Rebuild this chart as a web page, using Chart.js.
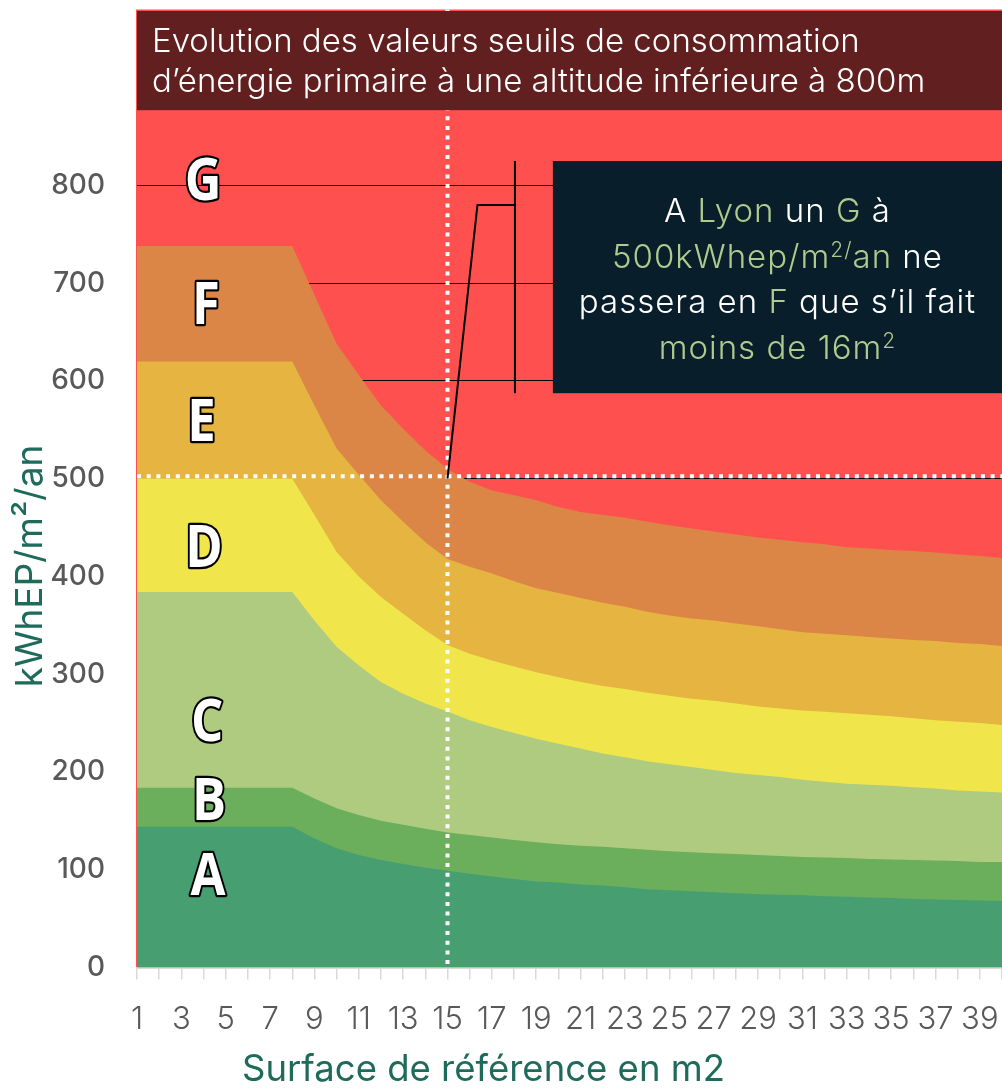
<!DOCTYPE html>
<html><head><meta charset="utf-8">
<script src="https://cdn.jsdelivr.net/npm/chart.js@4.4.1/dist/chart.umd.min.js"></script>
<style>html,body{margin:0;padding:0;background:#fff;}#wrap{width:1002px;height:1088px;position:relative;}</style>
</head><body><div id="wrap"><canvas id="c"></canvas></div>
<script>
// Surface de référence (m²)
const surfaces = ['1','2','3','4','5','6','7','8','9','10','11','12','13','14','15','16','17','18','19','20',
  '21','22','23','24','25','26','27','28','29','30','31','32','33','34','35','36','37','38','39','40'];
// Upper threshold of each class (kWhEP/m²/an)
const seuilA = [144,144,144,144,144,144,144,144,132,122,115,110,106,102,99,96,93,90.5,88,87,
  85,84,82,80,79,78,77,76,75,74.5,74,73,72.5,71.5,71,70,69.5,69,68.5,68];
const seuilB = [184,184,184,184,184,184,184,184,173,163,156,150,146,142,138,135.5,133,130.5,128,126,
  124.5,123.5,122,120.5,119,118,117,116,115,114,113,112.5,112,111,110.5,110,109.5,109,108,108];
const seuilC = [384,384,384,384,384,384,384,384,355,328,309,292,280,270,262,253,246,240,234,229,
  224,219,215,211,208,205,202,199,197,195,192,190,188,187,186,184.5,183,181,180,179];
const seuilD = [500,500,500,500,500,500,500,500,463,425,400,379,362,345,330,321,314,308,302,297,
  292,288,285,281,278,275,273,270,267,265,263,261.5,260,258.5,257,255,253,251.5,250,248];
const seuilE = [620,620,620,620,620,620,620,620,575,531,504,478,456,435,418,410,403,395,388,383,
  378,373,369,364,360,357,355,352,349,346,343,341.5,340,338,336.5,335,334,332,331,329];
const seuilF = [738,738,738,738,738,738,738,738,688,638,606,575,551,529,510,497,488,483,478,471,
  466,463,460,456,452.5,449,446,443,440,437.5,435,433,430,428.5,427,426,424.5,422.5,421,419];
const classes = ['A','B','C','D','E','F','G'];
const xTickLabels = ['1','3','5','7','9','11','13','15','17','19','21','23','25','27','29','31','33','35','37','39'];
const yTickLabels = [0,100,200,300,400,500,600,700,800];
const titleLines = ['Evolution des valeurs seuils de consommation','d’énergie primaire à une altitude inférieure à 800m'];
const xTitle = 'Surface de référence en m2';
const yTitle = 'kWhEP/m²/an';

const COL = {A:'#479E70',B:'#6BAE5C',C:'#AFCB7F',D:'#F0E64B',E:'#E6B541',F:'#DB8646',G:'#FF5050'};
const WHITE='#FFFFFF', HL='#ADCB8C';
const FONT='Inter, "Open Sans", sans-serif';

const bgPlugin = {
  id:'bg',
  beforeDraw(chart){
    const {ctx, chartArea:a} = chart;
    ctx.save(); ctx.fillStyle = COL.G;
    ctx.fillRect(a.left-1, a.top, a.right-a.left+1, a.bottom-a.top);
    ctx.restore();
  }
};

function richLine(ctx, segs, cx, base, size){
  let w=0;
  ctx.letterSpacing='1px';
  segs.forEach(s=>{ ctx.font = (s.sup? '300 21px ':'300 '+size+'px ')+FONT; s.w = ctx.measureText(s.t).width; w+=s.w; });
  let x = cx - w/2;
  ctx.textAlign='left'; ctx.textBaseline='alphabetic';
  segs.forEach(s=>{ ctx.font = (s.sup? '300 21px ':'300 '+size+'px ')+FONT; ctx.fillStyle=s.c; ctx.fillText(s.t, x, s.sup? base-11: base); x+=s.w; });
  ctx.letterSpacing='0px';
}

const overlayPlugin = {
  id:'overlay',
  afterDatasetsDraw(chart){
    const {ctx, chartArea:a, scales:{x,y}} = chart;
    ctx.save();
    // white dotted cross-hair
    const i15 = surfaces.indexOf('15');
    const x15 = x.getPixelForValue(i15);
    ctx.strokeStyle='#FFFFFF'; ctx.lineWidth=4; ctx.setLineDash([4,5.7]);
    ctx.beginPath(); ctx.moveTo(x15, a.top); ctx.lineTo(x15, a.bottom-2); ctx.stroke();
    const yh = y.getPixelForValue(502.5);
    ctx.beginPath(); ctx.moveTo(a.left, yh); ctx.lineTo(a.right, yh); ctx.stroke();
    ctx.setLineDash([]);
    // callout lines
    ctx.strokeStyle='#000'; ctx.lineWidth=2;
    ctx.beginPath();
    ctx.moveTo(x15, y.getPixelForValue(500));
    ctx.lineTo(x.getPixelForValue(15.35), y.getPixelForValue(780));
    ctx.lineTo(x.getPixelForValue(17.04), y.getPixelForValue(780));
    ctx.stroke();
    ctx.beginPath();
    ctx.moveTo(x.getPixelForValue(17.04), y.getPixelForValue(825));
    ctx.lineTo(x.getPixelForValue(17.04), y.getPixelForValue(587.5));
    ctx.stroke();
    // annotation box
    const bl = x.getPixelForValue(18.75), bt = y.getPixelForValue(825), bb = y.getPixelForValue(587.5);
    ctx.fillStyle='#081E2B';
    ctx.fillRect(bl, bt, a.right-bl, bb-bt);
    const cx = (bl+a.right)/2;
    richLine(ctx,[{t:'A ',c:WHITE},{t:'Lyon',c:HL},{t:' un ',c:WHITE},{t:'G',c:HL},{t:' à',c:WHITE}], cx, bt+61, 33);
    richLine(ctx,[{t:'500kWhep/m',c:HL},{t:'2/',c:HL,sup:true},{t:'an',c:HL},{t:' ne',c:WHITE}], cx, bt+106.5, 33);
    richLine(ctx,[{t:'passera en ',c:WHITE},{t:'F',c:HL},{t:' que s’il fait',c:WHITE}], cx, bt+152, 33);
    richLine(ctx,[{t:'moins de 16m',c:HL},{t:'2',c:HL,sup:true}], cx, bt+197.5, 33);
    // title box
    const tt = a.top+1.5, tb = y.getPixelForValue(877);
    ctx.fillStyle='#611F1F';
    ctx.fillRect(a.left, tt, a.right-a.left, tb-tt);
    ctx.fillStyle='#FFFFFF'; ctx.font='300 33px '+FONT; ctx.textAlign='left'; ctx.textBaseline='alphabetic';
    ctx.fillText(titleLines[0], a.left+15, tt+41);
    ctx.fillText(titleLines[1], a.left+15, tt+81);
    // class letters
    const letters = [{xi:2.98,v:807},{xi:3.02,v:430.7},{xi:3.16,v:252.7},{xi:3.25,v:172.4},{xi:3.2,v:96},{xi:3.11,v:680},{xi:2.91,v:560.5}];
    const order = ['G','D','C','B','A','F','E'];
    ctx.font='700 59px "Open Sans", sans-serif'; ctx.textAlign='center'; ctx.textBaseline='alphabetic';
    ctx.lineJoin='round'; ctx.lineWidth=4.5; ctx.strokeStyle='#000'; ctx.fillStyle='#fff';
    order.forEach((t,k)=>{
      const p = letters[k];
      const px = x.getPixelForValue(p.xi), py = y.getPixelForValue(p.v)+21;
      ctx.save(); ctx.translate(px,py); ctx.scale(0.86,1);
      ctx.strokeText(t,0,0); ctx.fillText(t,0,0); ctx.restore();
    });
    ctx.restore();
  },
  afterDraw(chart){
    const {ctx} = chart;
    ctx.save();
    ctx.fillStyle='#1E6B5C';
    ctx.font='400 36.5px '+FONT; ctx.textAlign='center'; ctx.textBaseline='alphabetic';
    ctx.fillText(xTitle, 483.5, 1081);
    ctx.translate(41.5, 566); ctx.rotate(-Math.PI/2);
    ctx.font='400 37px '+FONT;
    ctx.fillText(yTitle, 0, 0);
    ctx.restore();
  }
};

const bands = [['A',seuilA],['B',seuilB],['C',seuilC],['D',seuilD],['E',seuilE],['F',seuilF]];
new Chart(document.getElementById('c'), {
  type:'line',
  data:{
    labels: surfaces,
    datasets: bands.map(([k,d])=>({label:k, data:d, backgroundColor:COL[k], borderWidth:0, borderColor:COL[k],
      pointRadius:0, fill:'origin', tension:0}))
  },
  options:{
    responsive:true, maintainAspectRatio:false, animation:false, events:[],
    layout:{padding:{top:9.5,left:0,right:0,bottom:0}},
    plugins:{legend:{display:false}, tooltip:{enabled:false}, title:{display:false}},
    scales:{
      x:{ type:'category', offset:false,
        afterFit(s){ s.height=120.5; s.paddingLeft=0; s.paddingRight=0; },
        ticks:{ autoSkip:false, maxRotation:0, minRotation:0, padding:22, color:'#595959',
          font:{family:FONT, size:31, weight:'300'},
          callback(v){ const l=this.getLabelForValue(v); return xTickLabels.includes(l)? l : ''; } },
        grid:{ drawOnChartArea:false, drawTicks:true, tickLength:12, color:'#D9D9D9', lineWidth:1.5 },
        border:{ display:true, color:'#D9D9D9', width:2 } },
      y:{ min:0, max:980,
        afterFit(s){ s.width=137; s.paddingTop=0; s.paddingBottom=0; },
        ticks:{ stepSize:100, padding:32, color:'#595959', font:{family:FONT, size:28, weight:'500'},
          callback:(v)=> yTickLabels.includes(v)? String(v) : '' },
        grid:{ drawTicks:false, lineWidth:1,
          color:(c)=> (c.tick && c.tick.value>=500 && c.tick.value<=900)? '#000000' : 'rgba(0,0,0,0)' },
        border:{ display:false } }
    }
  },
  plugins:[bgPlugin, overlayPlugin]
});
</script></body></html>
